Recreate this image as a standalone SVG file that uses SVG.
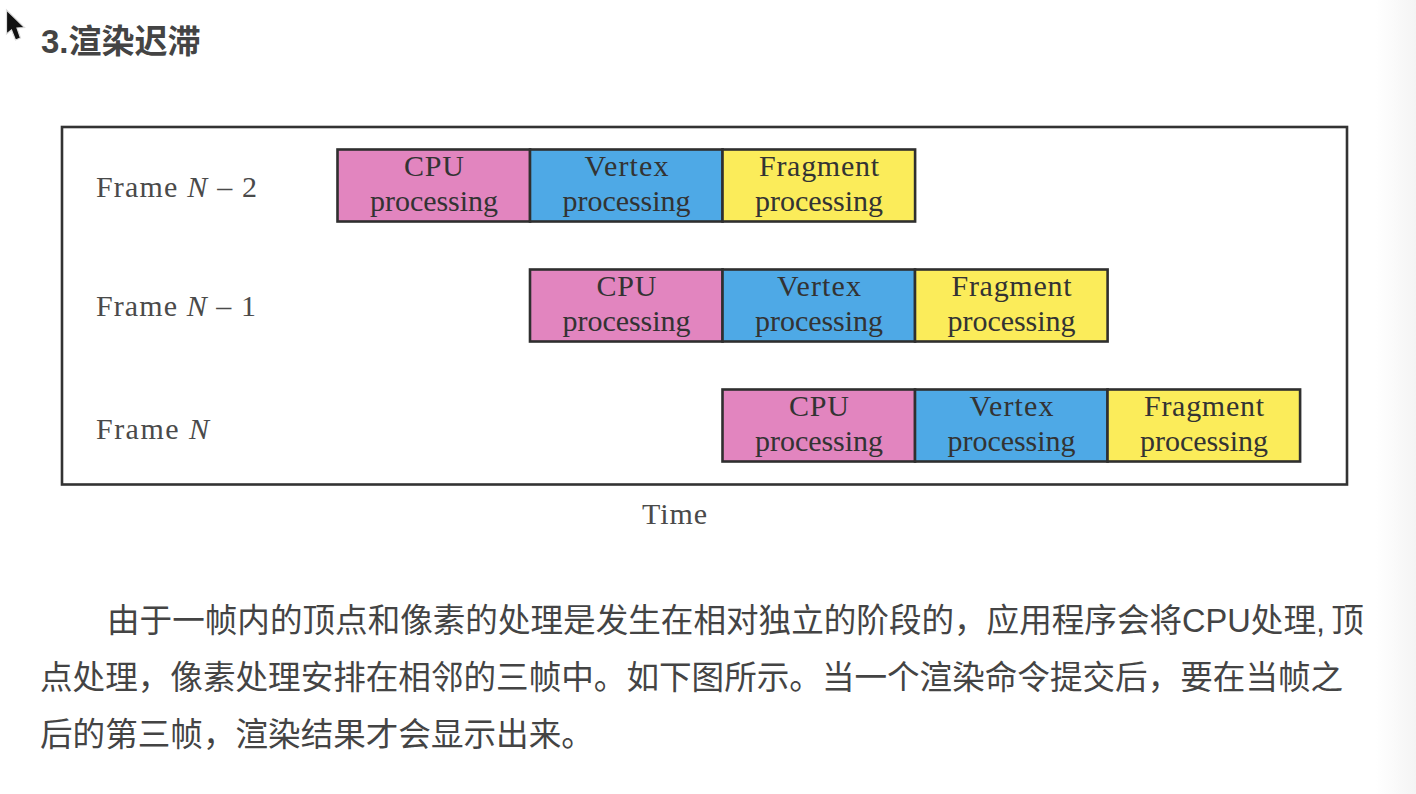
<svg xmlns="http://www.w3.org/2000/svg" width="1416" height="794" viewBox="0 0 1416 794">
<style>
.cjk{font-family:"Liberation Sans","Noto Sans CJK SC",sans-serif;fill:#444}
.h{font-size:33px;font-weight:700}
.p{font-size:32.6px}
.tex{font-family:"Liberation Serif","Times New Roman",serif;font-size:30px;fill:#333;text-anchor:middle}
.lab{font-family:"Liberation Serif","Times New Roman",serif;font-size:30px;fill:#4a4a4a}
.i{font-style:italic}
.b{stroke:#2f2f2f;stroke-width:2.6}
.cpu{fill:#e285bf}.ver{fill:#4ea9e6}.fra{fill:#fbec5a}
</style>
<defs>
<linearGradient id="edge" x1="0" x2="1" y1="0" y2="0"><stop offset="0" stop-color="#fff"/><stop offset="1" stop-color="#f4f4f4"/></linearGradient>
<g id="c"><rect class="b cpu" width="192.600" height="72"/><text class="tex" x="96.500" y="26" textLength="60">CPU</text><text class="tex" x="96.500" y="61" textLength="128">processing</text></g>
<g id="v"><rect class="b ver" width="192.600" height="72"/><text class="tex" x="96.500" y="26" textLength="84">Vertex</text><text class="tex" x="96.500" y="61" textLength="128">processing</text></g>
<g id="f"><rect class="b fra" width="192.600" height="72"/><text class="tex" x="96.500" y="26" textLength="120">Fragment</text><text class="tex" x="96.500" y="61" textLength="128">processing</text></g>
</defs>
<rect width="1416" height="794" fill="#fff"/>
<rect x="1376" width="40" height="794" fill="url(#edge)"/>
<path id="cursor" d="M6.500 10V34L11.500 30L15.500 40L20.500 38L17 28L24.500 27.500Z" fill="#111" stroke="#ddd" stroke-width="1.200"/>
<text id="heading" class="cjk h" x="41" y="53">3.渲染迟滞</text>
<rect id="frame" x="62" y="127" width="1285" height="357.500" fill="#fff" stroke="#333" stroke-width="2.600"/>
<g id="row-n2">
<text class="lab" x="96" y="197" textLength="161">Frame <tspan class="i">N</tspan> – 2</text>
<use id="n2-cpu" href="#c" x="337.500" y="149.500"/><use id="n2-vertex" href="#v" x="530" y="149.500"/><use id="n2-fragment" href="#f" x="722.500" y="149.500"/>
</g>
<g id="row-n1">
<text class="lab" x="96" y="316" textLength="160">Frame <tspan class="i">N</tspan> – 1</text>
<use id="n1-cpu" href="#c" x="530" y="269.500"/><use id="n1-vertex" href="#v" x="722.500" y="269.500"/><use id="n1-fragment" href="#f" x="915" y="269.500"/>
</g>
<g id="row-n">
<text class="lab" x="96" y="439" textLength="113">Frame <tspan class="i">N</tspan></text>
<use id="n-cpu" href="#c" x="722.500" y="389.500"/><use id="n-vertex" href="#v" x="915" y="389.500"/><use id="n-fragment" href="#f" x="1107.500" y="389.500"/>
</g>
<g id="connectors"/>
<text class="lab" x="642" y="524" textLength="65">Time</text>
<g id="body" class="cjk p">
<text x="107" y="632">由于一帧内的顶点和像素的处理是发生在相对独立的阶段的&#xFF0C;应用程序会将CPU处理, <tspan dx="-3">顶</tspan></text>
<text x="40" y="689">点处理&#xFF0C;像素处理安排在相邻的三帧中。如下图所示。当一个渲染命令提交后&#xFF0C;要在当帧之</text>
<text x="40" y="746">后的第三帧&#xFF0C;渲染结果才会显示出来。</text>
</g>
</svg>
